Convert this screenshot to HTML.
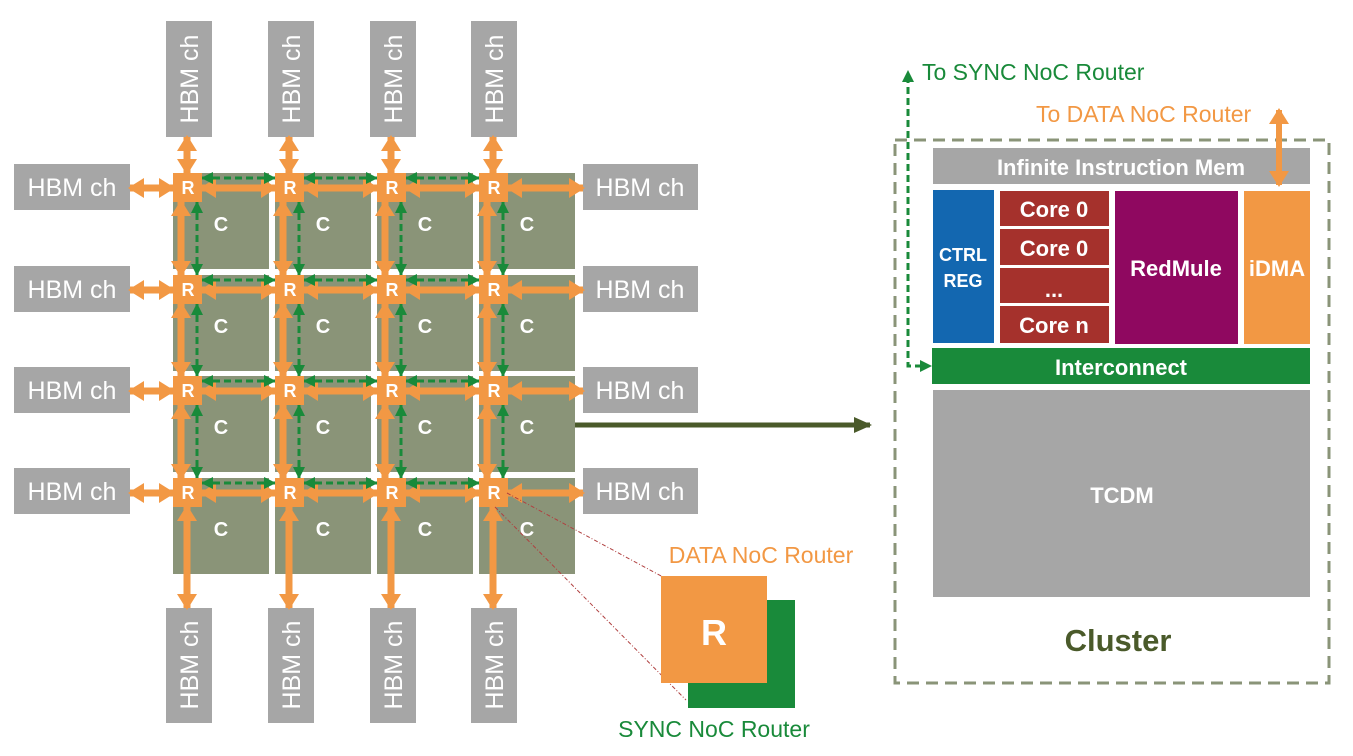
<!DOCTYPE html>
<html><head><meta charset="utf-8"><style>
html,body{margin:0;padding:0;background:#fff;}
svg{display:block;}
text{font-family:"Liberation Sans",sans-serif;}
.hb{fill:#fff;font-size:25px;}
.b{font-weight:bold;fill:#fff;}
</style></head><body>
<svg width="1353" height="756" viewBox="0 0 1353 756" xmlns="http://www.w3.org/2000/svg">
<defs>
<marker id="oa" markerUnits="userSpaceOnUse" markerWidth="16" markerHeight="20" refX="14" refY="10" orient="auto-start-reverse"><path d="M0,0 L16,10 L0,20 Z" fill="#f29844"/></marker>
<marker id="ga" markerUnits="userSpaceOnUse" markerWidth="12" markerHeight="12" refX="11" refY="6" orient="auto-start-reverse"><path d="M0,0 L12,6 L0,12 Z" fill="#198a3a"/></marker>
<marker id="da" markerUnits="userSpaceOnUse" markerWidth="18" markerHeight="16" refX="16" refY="8" orient="auto"><path d="M0,0 L18,8 L0,16 Z" fill="#4a5a2a"/></marker>
</defs>

<g fill="#8a9478">
<rect x="173" y="173" width="96" height="96"/><rect x="275" y="173" width="96" height="96"/><rect x="377" y="173" width="96" height="96"/><rect x="479" y="173" width="96" height="96"/>
<rect x="173" y="275" width="96" height="96"/><rect x="275" y="275" width="96" height="96"/><rect x="377" y="275" width="96" height="96"/><rect x="479" y="275" width="96" height="96"/>
<rect x="173" y="376" width="96" height="96"/><rect x="275" y="376" width="96" height="96"/><rect x="377" y="376" width="96" height="96"/><rect x="479" y="376" width="96" height="96"/>
<rect x="173" y="478" width="96" height="96"/><rect x="275" y="478" width="96" height="96"/><rect x="377" y="478" width="96" height="96"/><rect x="479" y="478" width="96" height="96"/>
</g>
<g class="b" font-size="20" text-anchor="middle">
<text x="221" y="231">C</text><text x="323" y="231">C</text><text x="425" y="231">C</text><text x="527" y="231">C</text>
<text x="221" y="333">C</text><text x="323" y="333">C</text><text x="425" y="333">C</text><text x="527" y="333">C</text>
<text x="221" y="434">C</text><text x="323" y="434">C</text><text x="425" y="434">C</text><text x="527" y="434">C</text>
<text x="221" y="536">C</text><text x="323" y="536">C</text><text x="425" y="536">C</text><text x="527" y="536">C</text>
</g>

<g fill="#a6a6a6">
<rect x="14" y="164" width="116" height="46"/><rect x="14" y="266" width="116" height="46"/><rect x="14" y="367" width="116" height="46"/><rect x="14" y="468" width="116" height="46"/>
<rect x="583" y="164" width="115" height="46"/><rect x="583" y="266" width="115" height="46"/><rect x="583" y="367" width="115" height="46"/><rect x="583" y="468" width="115" height="46"/>
<rect x="166" y="21" width="46" height="116"/><rect x="268" y="21" width="46" height="116"/><rect x="370" y="21" width="46" height="116"/><rect x="471" y="21" width="46" height="116"/>
<rect x="166" y="608" width="46" height="115"/><rect x="268" y="608" width="46" height="115"/><rect x="370" y="608" width="46" height="115"/><rect x="471" y="608" width="46" height="115"/>
</g>
<g class="hb" text-anchor="middle">
<text x="72" y="196">HBM ch</text><text x="72" y="298">HBM ch</text><text x="72" y="399">HBM ch</text><text x="72" y="500">HBM ch</text>
<text x="640" y="196">HBM ch</text><text x="640" y="298">HBM ch</text><text x="640" y="399">HBM ch</text><text x="640" y="500">HBM ch</text>
<text transform="translate(198,79) rotate(-90)">HBM ch</text><text transform="translate(300,79) rotate(-90)">HBM ch</text><text transform="translate(402,79) rotate(-90)">HBM ch</text><text transform="translate(503,79) rotate(-90)">HBM ch</text>
<text transform="translate(198,665) rotate(-90)">HBM ch</text><text transform="translate(300,665) rotate(-90)">HBM ch</text><text transform="translate(402,665) rotate(-90)">HBM ch</text><text transform="translate(503,665) rotate(-90)">HBM ch</text>
</g>

<g stroke="#f29844" stroke-width="7" marker-start="url(#oa)" marker-end="url(#oa)">
<line x1="130" y1="188" x2="173" y2="188"/><line x1="202" y1="188" x2="275" y2="188"/><line x1="304" y1="188" x2="377" y2="188"/><line x1="406" y1="188" x2="479" y2="188"/><line x1="508" y1="188" x2="583" y2="188"/>
<line x1="130" y1="290" x2="173" y2="290"/><line x1="202" y1="290" x2="275" y2="290"/><line x1="304" y1="290" x2="377" y2="290"/><line x1="406" y1="290" x2="479" y2="290"/><line x1="508" y1="290" x2="583" y2="290"/>
<line x1="130" y1="391" x2="173" y2="391"/><line x1="202" y1="391" x2="275" y2="391"/><line x1="304" y1="391" x2="377" y2="391"/><line x1="406" y1="391" x2="479" y2="391"/><line x1="508" y1="391" x2="583" y2="391"/>
<line x1="130" y1="493" x2="173" y2="493"/><line x1="202" y1="493" x2="275" y2="493"/><line x1="304" y1="493" x2="377" y2="493"/><line x1="406" y1="493" x2="479" y2="493"/><line x1="508" y1="493" x2="583" y2="493"/>
<line x1="187" y1="137" x2="187" y2="173"/><line x1="181" y1="202" x2="181" y2="275"/><line x1="181" y1="304" x2="181" y2="376"/><line x1="181" y1="405" x2="181" y2="478"/><line x1="187" y1="507" x2="187" y2="608"/>
<line x1="289" y1="137" x2="289" y2="173"/><line x1="283" y1="202" x2="283" y2="275"/><line x1="283" y1="304" x2="283" y2="376"/><line x1="283" y1="405" x2="283" y2="478"/><line x1="289" y1="507" x2="289" y2="608"/>
<line x1="391" y1="137" x2="391" y2="173"/><line x1="385" y1="202" x2="385" y2="275"/><line x1="385" y1="304" x2="385" y2="376"/><line x1="385" y1="405" x2="385" y2="478"/><line x1="391" y1="507" x2="391" y2="608"/>
<line x1="493" y1="137" x2="493" y2="173"/><line x1="487" y1="202" x2="487" y2="275"/><line x1="487" y1="304" x2="487" y2="376"/><line x1="487" y1="405" x2="487" y2="478"/><line x1="493" y1="507" x2="493" y2="608"/>
</g>
<g stroke="#198a3a" stroke-width="3" stroke-dasharray="7,4" marker-start="url(#ga)" marker-end="url(#ga)">
<line x1="202" y1="178" x2="275" y2="178"/><line x1="304" y1="178" x2="377" y2="178"/><line x1="406" y1="178" x2="479" y2="178"/>
<line x1="202" y1="280" x2="275" y2="280"/><line x1="304" y1="280" x2="377" y2="280"/><line x1="406" y1="280" x2="479" y2="280"/>
<line x1="202" y1="381" x2="275" y2="381"/><line x1="304" y1="381" x2="377" y2="381"/><line x1="406" y1="381" x2="479" y2="381"/>
<line x1="202" y1="483" x2="275" y2="483"/><line x1="304" y1="483" x2="377" y2="483"/><line x1="406" y1="483" x2="479" y2="483"/>
<line x1="197" y1="202" x2="197" y2="275"/><line x1="197" y1="304" x2="197" y2="376"/><line x1="197" y1="405" x2="197" y2="478"/>
<line x1="299" y1="202" x2="299" y2="275"/><line x1="299" y1="304" x2="299" y2="376"/><line x1="299" y1="405" x2="299" y2="478"/>
<line x1="401" y1="202" x2="401" y2="275"/><line x1="401" y1="304" x2="401" y2="376"/><line x1="401" y1="405" x2="401" y2="478"/>
<line x1="503" y1="202" x2="503" y2="275"/><line x1="503" y1="304" x2="503" y2="376"/><line x1="503" y1="405" x2="503" y2="478"/>
</g>

<g fill="#f29844">
<rect x="173" y="173" width="29" height="29"/><rect x="275" y="173" width="29" height="29"/><rect x="377" y="173" width="29" height="29"/><rect x="479" y="173" width="29" height="29"/>
<rect x="173" y="275" width="29" height="29"/><rect x="275" y="275" width="29" height="29"/><rect x="377" y="275" width="29" height="29"/><rect x="479" y="275" width="29" height="29"/>
<rect x="173" y="376" width="29" height="29"/><rect x="275" y="376" width="29" height="29"/><rect x="377" y="376" width="29" height="29"/><rect x="479" y="376" width="29" height="29"/>
<rect x="173" y="478" width="29" height="29"/><rect x="275" y="478" width="29" height="29"/><rect x="377" y="478" width="29" height="29"/><rect x="479" y="478" width="29" height="29"/>
</g>
<g class="b" font-size="18" text-anchor="middle">
<text x="188" y="194">R</text><text x="290" y="194">R</text><text x="392" y="194">R</text><text x="494" y="194">R</text>
<text x="188" y="296">R</text><text x="290" y="296">R</text><text x="392" y="296">R</text><text x="494" y="296">R</text>
<text x="188" y="397">R</text><text x="290" y="397">R</text><text x="392" y="397">R</text><text x="494" y="397">R</text>
<text x="188" y="499">R</text><text x="290" y="499">R</text><text x="392" y="499">R</text><text x="494" y="499">R</text>
</g>

<line x1="507" y1="493" x2="663" y2="577" stroke="#b04040" stroke-width="1" stroke-dasharray="4,2,1,2"/>
<line x1="495" y1="507" x2="686" y2="700" stroke="#b04040" stroke-width="1" stroke-dasharray="4,2,1,2"/>
<rect x="688" y="600" width="107" height="108" fill="#198a3a"/>
<rect x="661" y="576" width="106" height="107" fill="#f29844"/>
<text x="714" y="645" class="b" font-size="36" text-anchor="middle">R</text>
<text x="761" y="563" font-size="23" fill="#f29844" text-anchor="middle">DATA NoC Router</text>
<text x="714" y="737" font-size="23" fill="#198a3a" text-anchor="middle">SYNC NoC Router</text>

<line x1="575" y1="425" x2="870" y2="425" stroke="#4a5a2a" stroke-width="5" marker-end="url(#da)"/>

<rect x="895" y="140" width="434" height="543" fill="none" stroke="#8a9478" stroke-width="3" stroke-dasharray="12,7"/>
<rect x="933" y="148" width="377" height="36" fill="#a6a6a6"/>
<text x="1121" y="175" class="b" font-size="22" text-anchor="middle">Infinite Instruction Mem</text>
<rect x="933" y="190" width="61" height="153" fill="#1367b0"/>
<text x="963" y="261" class="b" font-size="18" text-anchor="middle">CTRL</text>
<text x="963" y="287" class="b" font-size="18" text-anchor="middle">REG</text>
<g fill="#a5312c">
<rect x="1000" y="191" width="109" height="35"/><rect x="1000" y="229" width="109" height="36"/><rect x="1000" y="268" width="109" height="35"/><rect x="1000" y="306" width="109" height="37"/>
</g>
<g class="b" font-size="22" text-anchor="middle">
<text x="1054" y="217">Core 0</text><text x="1054" y="256">Core 0</text><text x="1054" y="297">...</text><text x="1054" y="333">Core n</text>
</g>
<rect x="1115" y="191" width="123" height="153" fill="#8f0860"/>
<text x="1176" y="276" class="b" font-size="22" text-anchor="middle">RedMule</text>
<rect x="1244" y="191" width="66" height="153" fill="#f29844"/>
<text x="1277" y="276" class="b" font-size="22" text-anchor="middle">iDMA</text>
<rect x="932" y="348" width="378" height="36" fill="#198a3a"/>
<text x="1121" y="375" class="b" font-size="22" text-anchor="middle">Interconnect</text>
<rect x="933" y="390" width="377" height="207" fill="#a6a6a6"/>
<text x="1122" y="503" class="b" font-size="22" text-anchor="middle">TCDM</text>
<text x="1118" y="651" font-size="31" font-weight="bold" fill="#4a5a2a" text-anchor="middle">Cluster</text>

<polyline points="922,366 908,366 908,80" fill="none" stroke="#198a3a" stroke-width="3" stroke-dasharray="7,4"/>
<path d="M902,82 L908,70 L914,82 Z" fill="#198a3a"/>
<path d="M920,360 L932,366 L920,372 Z" fill="#198a3a"/>
<text x="922" y="80" font-size="23" fill="#198a3a">To SYNC NoC Router</text>
<line x1="1279" y1="110" x2="1279" y2="185" stroke="#f29844" stroke-width="6" marker-start="url(#oa)" marker-end="url(#oa)"/>
<text x="1036" y="122" font-size="23" fill="#f29844">To DATA NoC Router</text>
</svg>
</body></html>
